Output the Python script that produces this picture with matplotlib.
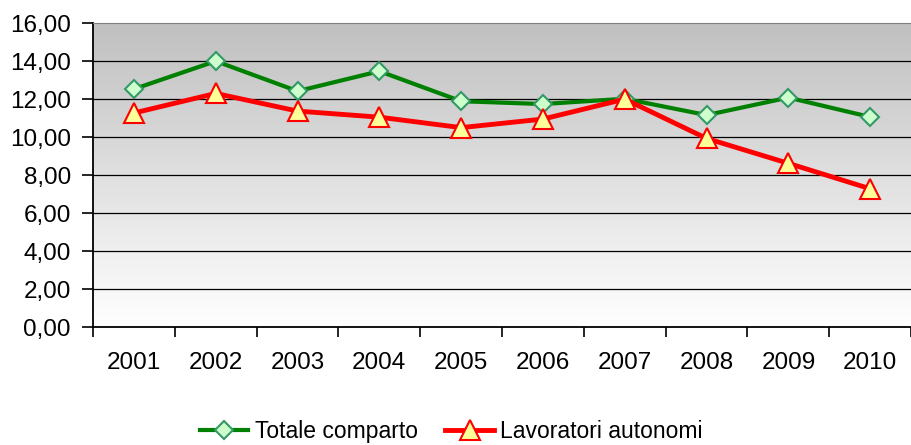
import numpy as np
import matplotlib.pyplot as plt
from matplotlib.ticker import FuncFormatter

plt.rcParams['font.family'] = ['Liberation Sans', 'DejaVu Sans']

anni = ['2001', '2002', '2003', '2004', '2005', '2006', '2007', '2008', '2009', '2010']
totale_comparto = [12.53, 14.00, 12.42, 13.47, 11.89, 11.74, 12.02, 11.16, 12.08, 11.06]
lavoratori_autonomi = [11.27, 12.30, 11.37, 11.05, 10.50, 10.95, 12.00, 9.93, 8.62, 7.28]

fig = plt.figure(figsize=(9.12, 4.45), dpi=100)
ax = fig.add_axes([0.102, 0.265, 0.897, 0.683])

x = np.arange(len(anni))

# sfondo sfumato grigio (alto) -> bianco (basso)
grad = np.linspace(192, 255, 256)[:, None] / 255.0
ax.imshow(np.dstack([grad, grad, grad]), extent=[0, 1, 0, 1], transform=ax.transAxes,
          aspect='auto', origin='upper', zorder=0)

ax.plot(x, totale_comparto, color='#008000', lw=3, marker='D', ms=9.5,
        mfc='#CCFFCC', mec='#339966', mew=1.5, label='Totale comparto', zorder=3)
ax.plot(x, lavoratori_autonomi, color='#FF0000', lw=3.5, marker='^', ms=14,
        mfc='#FFFF99', mec='#FF0000', mew=1.5, label='Lavoratori autonomi', zorder=4)

ax.set_xlim(-0.5, len(anni) - 0.5)
ax.set_ylim(0, 16)
ax.set_yticks(np.arange(0, 17, 2))
ax.yaxis.set_major_formatter(FuncFormatter(lambda v, p: f'{v:.2f}'.replace('.', ',')))
for v in np.arange(2, 16, 2):
    ax.axhline(v, color='black', lw=0.9, zorder=1)

ax.set_xticks(np.arange(-0.5, len(anni), 1))
ax.set_xticklabels([])
ax.set_xticks(x, minor=True)
ax.set_xticklabels(anni, minor=True)
ax.tick_params(axis='x', which='major', length=7, width=1.2, direction='out')
ax.tick_params(axis='x', which='minor', length=0, pad=18, labelsize=17.5)
ax.tick_params(axis='y', length=8, width=1.2, pad=8, labelsize=17.5)

for s in ['left', 'bottom']:
    ax.spines[s].set_linewidth(1.3)
    ax.spines[s].set_color('black')
ax.spines['top'].set_color('#808080')
ax.spines['right'].set_visible(False)

fig.legend(loc='center', bbox_to_anchor=(0.495, 0.03), ncol=2, frameon=False,
           fontsize=16.5, handlelength=2.1, handletextpad=0.3, columnspacing=1.2)

fig.savefig('out.png', dpi=100)
